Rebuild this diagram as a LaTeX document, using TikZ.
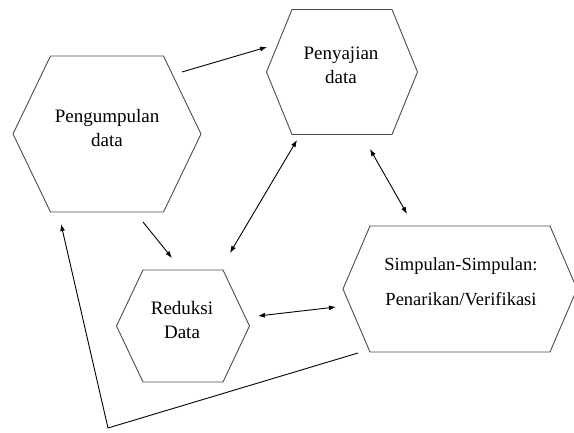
\documentclass[tikz,border=0pt]{standalone}
\usepackage{fontspec}
\setmainfont{Liberation Serif}
\usetikzlibrary{calc,arrows.meta}
\tikzset{
  hexline/.style={line width=0.9pt, draw=black!70},
  flow/.style={line width=0.9pt, -{Latex[length=7pt,width=5pt]}},
  flowboth/.style={line width=0.9pt, {Latex[length=7pt,width=5pt]}-{Latex[length=7pt,width=5pt]}},
  boxtext/.style={align=center, font=\fontsize{19}{24}\selectfont, inner sep=0pt}
}
% hexagon round node #1: shift #2,#3, half width #4, half top width #5, half height #6
\newcommand{\hexagonat}[6]{%
  \draw[hexline] ($(#1)+(#2-#4,#3)$) -- ($(#1)+(#2-#5,#3-#6)$) -- ($(#1)+(#2+#5,#3-#6)$)
    -- ($(#1)+(#2+#4,#3)$) -- ($(#1)+(#2+#5,#3+#6)$) -- ($(#1)+(#2-#5,#3+#6)$) -- cycle;}
\begin{document}
\begin{tikzpicture}[x=1pt,y=-1pt]
\useasboundingbox (0,0) rectangle (574,433);

% Marking the four stages
\node[boxtext] (peng) at (107,128) {Pengumpulan\\data};
\node[boxtext] (peny) at (341,65) {Penyajian\\data};
\node[boxtext] (redu) at (182,320) {Reduksi\\Data};
\node[boxtext, font=\fontsize{18.5}{35}\selectfont] (simp) at (461,282) {Simpulan-Simpulan:\\Penarikan/Verifikasi};

% Drawing hexagons round them
\hexagonat{peng}{0}{6}{94}{56.5}{78}
\hexagonat{peny}{1}{7}{75.5}{50}{62.5}
\hexagonat{redu}{1}{6}{66.5}{40}{56}
\hexagonat{simp}{-1}{7}{117}{90}{63}

% Arrow ends
\coordinate (pengout) at (182,72);
\coordinate (penyin) at (267,47);
\coordinate (pengdown) at (143,222);
\coordinate (reduin) at (172,258);
\coordinate (redutop) at (230,253);
\coordinate (penybot) at (297,140);
\coordinate (penyright) at (370,149);
\coordinate (simptop) at (407,214);
\coordinate (reduright) at (258,316);
\coordinate (simpleft) at (336,307);
\coordinate (simpout) at (358,353);
\coordinate (turn) at (108,428);
\coordinate (pengin) at (61,224);

% Drawing connectors
\draw[flow] (pengout) -- (penyin);
\draw[flow] (pengdown) -- (reduin);
\draw[flowboth] (redutop) -- (penybot);
\draw[flowboth] (penyright) -- (simptop);
\draw[flowboth] (reduright) -- (simpleft);
\draw[flow] (simpout) -- (turn) -- (pengin);
\end{tikzpicture}
\end{document}
